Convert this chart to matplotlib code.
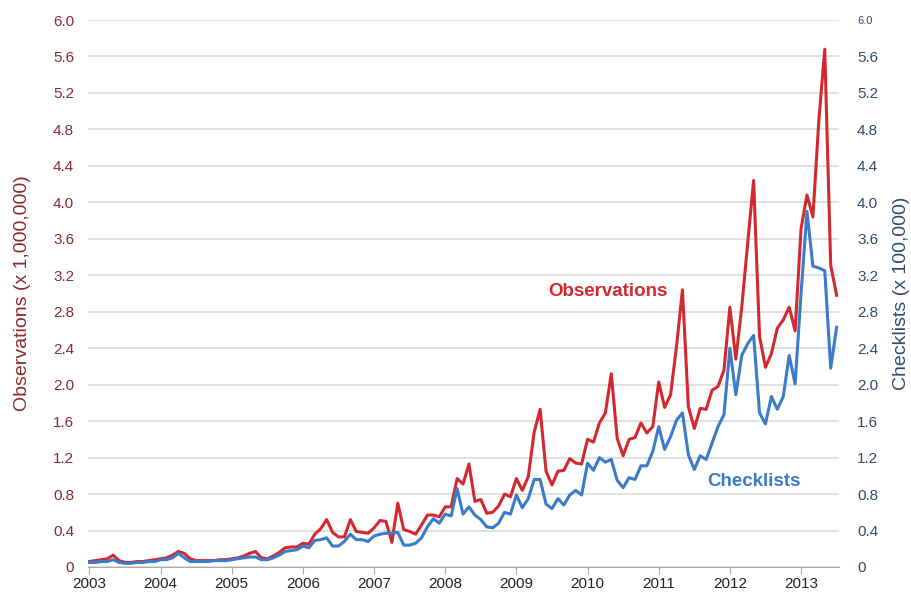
import numpy as np
import matplotlib
matplotlib.use('Agg')
import matplotlib.pyplot as plt

plt.rcParams['font.family'] = ['Liberation Sans', 'DejaVu Sans']

# monthly values, Jan 2003 .. Jul 2013
observations = [
    0.06, 0.07, 0.08, 0.09, 0.13, 0.07, 0.05, 0.05, 0.06, 0.06, 0.07, 0.08,  # 2003
    0.09, 0.10, 0.13, 0.17, 0.15, 0.09, 0.07, 0.07, 0.07, 0.07, 0.08, 0.08,  # 2004
    0.09, 0.10, 0.12, 0.15, 0.17, 0.10, 0.09, 0.12, 0.16, 0.21, 0.22, 0.22,  # 2005
    0.26, 0.25, 0.36, 0.42, 0.52, 0.38, 0.33, 0.33, 0.52, 0.39, 0.38, 0.37,  # 2006
    0.43, 0.51, 0.50, 0.27, 0.70, 0.41, 0.39, 0.36, 0.46, 0.57, 0.57, 0.55,  # 2007
    0.66, 0.66, 0.97, 0.91, 1.13, 0.72, 0.74, 0.59, 0.60, 0.67, 0.80, 0.77,  # 2008
    0.97, 0.84, 0.99, 1.48, 1.73, 1.05, 0.90, 1.05, 1.06, 1.19, 1.14, 1.13,  # 2009
    1.40, 1.37, 1.58, 1.69, 2.12, 1.41, 1.22, 1.40, 1.42, 1.58, 1.47, 1.54,  # 2010
    2.03, 1.75, 1.89, 2.42, 3.04, 1.76, 1.52, 1.74, 1.73, 1.94, 1.98, 2.16,  # 2011
    2.85, 2.28, 2.85, 3.55, 4.24, 2.53, 2.19, 2.34, 2.62, 2.71, 2.85, 2.59,  # 2012
    3.71, 4.08, 3.84, 4.90, 5.68, 3.31, 2.98,                                # 2013
]
checklists = [
    0.05, 0.05, 0.06, 0.06, 0.08, 0.05, 0.04, 0.04, 0.05, 0.05, 0.06, 0.06,  # 2003
    0.08, 0.08, 0.10, 0.15, 0.10, 0.06, 0.06, 0.06, 0.06, 0.07, 0.07, 0.07,  # 2004
    0.08, 0.09, 0.10, 0.11, 0.11, 0.08, 0.08, 0.10, 0.13, 0.17, 0.18, 0.19,  # 2005
    0.23, 0.21, 0.29, 0.30, 0.32, 0.23, 0.23, 0.28, 0.36, 0.30, 0.30, 0.28,  # 2006
    0.34, 0.36, 0.37, 0.37, 0.38, 0.24, 0.24, 0.26, 0.32, 0.44, 0.53, 0.48,  # 2007
    0.58, 0.56, 0.86, 0.58, 0.66, 0.57, 0.52, 0.44, 0.43, 0.48, 0.60, 0.58,  # 2008
    0.79, 0.65, 0.75, 0.96, 0.96, 0.69, 0.64, 0.75, 0.68, 0.79, 0.84, 0.79,  # 2009
    1.14, 1.06, 1.20, 1.15, 1.18, 0.95, 0.87, 0.98, 0.96, 1.11, 1.11, 1.27,  # 2010
    1.54, 1.29, 1.43, 1.61, 1.69, 1.23, 1.07, 1.22, 1.18, 1.36, 1.54, 1.67,  # 2011
    2.40, 1.89, 2.32, 2.45, 2.54, 1.69, 1.57, 1.87, 1.73, 1.87, 2.32, 2.01,  # 2012
    3.00, 3.90, 3.30, 3.28, 3.25, 2.18, 2.63,                                # 2013
]
years = list(range(2003, 2014))
yticks = [0, 0.4, 0.8, 1.2, 1.6, 2.0, 2.4, 2.8, 3.2, 3.6, 4.0, 4.4, 4.8, 5.2, 5.6, 6.0]
ytick_labels = ['0'] + ['%.1f' % v for v in yticks[1:]]

x = 2003 + np.arange(len(observations)) / 12.0

red = '#d3282e'
blue = '#3b7bc9'
left_col = '#8b2b2b'
right_col = '#2e4d6e'

fig = plt.figure(figsize=(9.12, 5.94), dpi=100)
ax = fig.add_axes([88/912, 1 - 567/594, (839-88)/912, (567-20)/594])
ax2 = ax.twinx()

ax.plot(x, observations, color=red, lw=2.2, zorder=3)
ax2.plot(x, checklists, color=blue, lw=2.2, zorder=3)

for a in (ax, ax2):
    a.set_ylim(0, 6.0)
    a.set_xlim(2003 - 0.02, 2003 + 126.4 / 12)
    for s in a.spines.values():
        s.set_visible(False)

ax.set_yticks(yticks)
ax.set_yticklabels(ytick_labels, color=left_col, fontsize=11)
ax.tick_params(axis='y', length=0, pad=10)
ax.yaxis.grid(True, color='#dedede', lw=1.3)
ax.set_axisbelow(True)

ax2.set_yticks(yticks)
ax2.set_yticklabels(ytick_labels, color=right_col, fontsize=11)
ax2.get_yticklabels()[-1].set_fontsize(8)
ax2.tick_params(axis='y', length=0, pad=13)

ax.spines['bottom'].set_visible(True)
ax.spines['bottom'].set_color('#aaaaaa')
ax.set_xticks(years)
ax.set_xticklabels([str(y) for y in years], fontsize=11, color='#222222')
ax.tick_params(axis='x', length=5, color='#aaaaaa', pad=2)

ax.set_ylabel('Observations (x 1,000,000)', color=left_col, fontsize=14, labelpad=16)
ax2.set_ylabel('Checklists (x 100,000)', color=right_col, fontsize=14, labelpad=11)

ax.text(2010.29, 3.02, 'Observations', color=red, fontsize=13.5, fontweight='bold',
        ha='center', va='center')
ax.text(2012.34, 0.94, 'Checklists', color=blue, fontsize=13.5, fontweight='bold',
        ha='center', va='center')

fig.savefig('out.png', dpi=100)
